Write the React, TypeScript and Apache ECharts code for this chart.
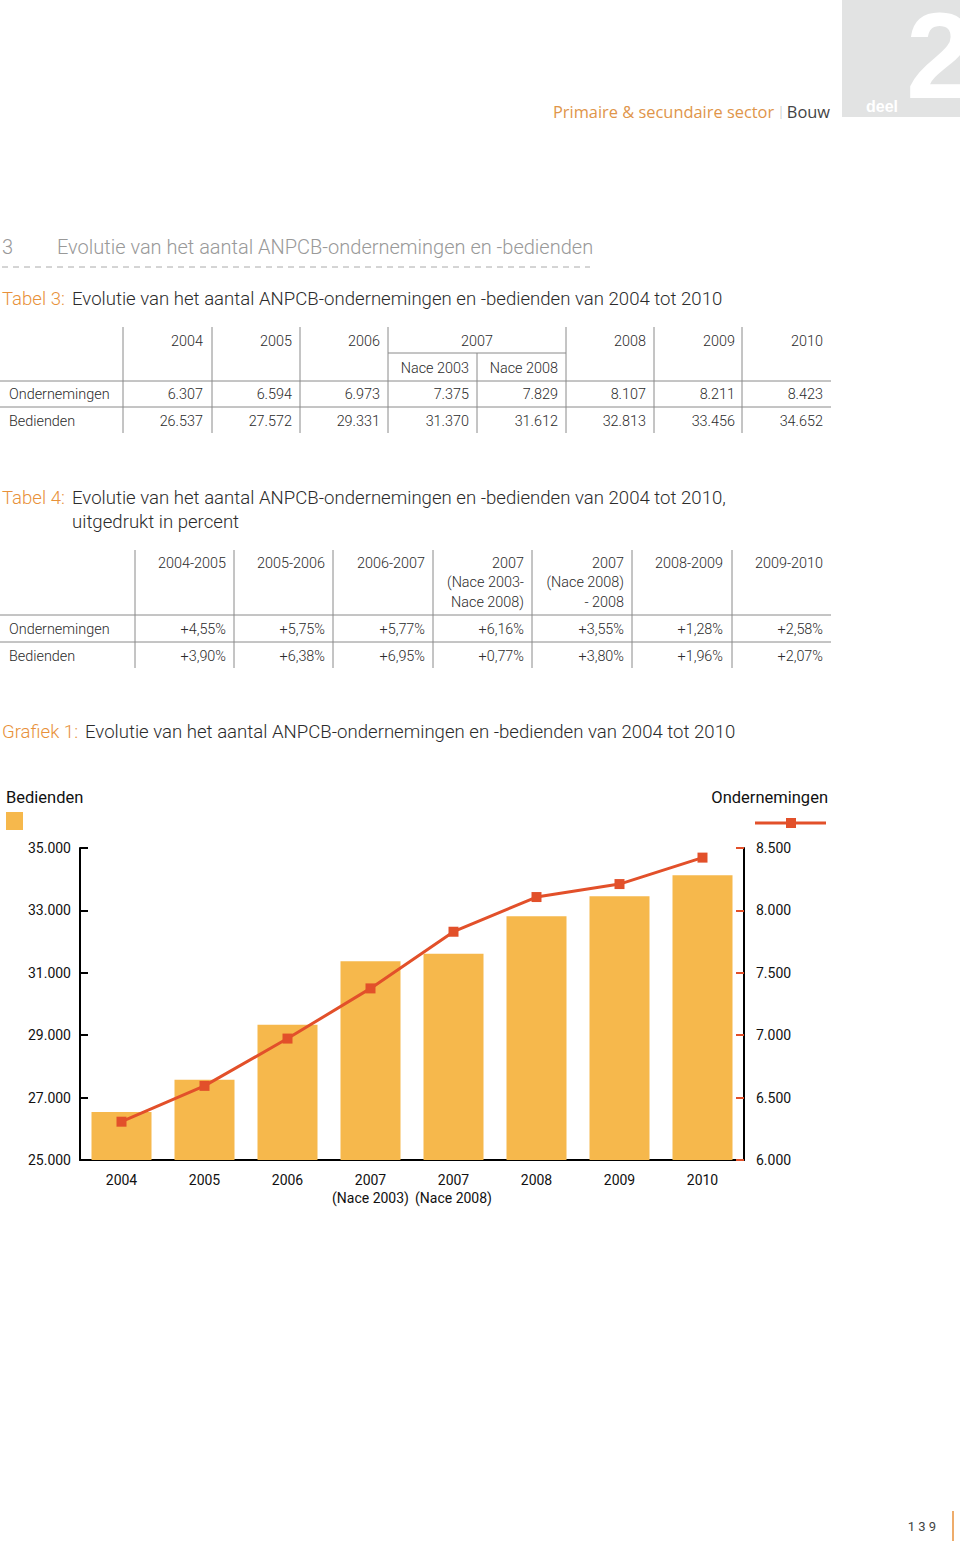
import React, { useEffect, useRef } from 'react';
import * as echarts from 'echarts';

// ---------- data ----------
const table3Years = ['2004', '2005', '2006', '2007', '2008', '2009', '2010'];
const table3Nace = ['Nace 2003', 'Nace 2008'];
const table3Ondernemingen = ['6.307', '6.594', '6.973', '7.375', '7.829', '8.107', '8.211', '8.423'];
const table3Bedienden = ['26.537', '27.572', '29.331', '31.370', '31.612', '32.813', '33.456', '34.652'];

const table4Headers = [
  ['2004-2005'],
  ['2005-2006'],
  ['2006-2007'],
  ['2007', '(Nace 2003-', 'Nace 2008)'],
  ['2007', '(Nace 2008)', '- 2008'],
  ['2008-2009'],
  ['2009-2010'],
];
const table4Ondernemingen = ['+4,55%', '+5,75%', '+5,77%', '+6,16%', '+3,55%', '+1,28%', '+2,58%'];
const table4Bedienden = ['+3,90%', '+6,38%', '+6,95%', '+0,77%', '+3,80%', '+1,96%', '+2,07%'];
const rowLabels = ['Ondernemingen', 'Bedienden'];

const chartCategories = ['2004', '2005', '2006', '2007\n(Nace 2003)', '2007\n(Nace 2008)', '2008', '2009', '2010'];
const chartBedienden = [26537, 27572, 29331, 31370, 31612, 32813, 33456, 34130];
const chartOndernemingen = [6307, 6594, 6973, 7375, 7829, 8107, 8211, 8423];

// ---------- styles ----------
const ORANGE = '#E8913A';
const BAR = '#F6B84C';
const RED = '#E2502A';
const TEXT = '#2b2b2b';
const GRID = '#8a8a8a';
const BODY_FONT = "Roboto, 'Liberation Sans', Arial, sans-serif";
const HEAD_FONT = "'Open Sans', 'Liberation Sans', Arial, sans-serif";
const COND_FONT = "Roboto, 'Liberation Sans', sans-serif";
const TITLE_SIZE = 18.6;
const TABLE_SIZE = 14.4;

type Align = 'left' | 'right' | 'center';
const txt = (text: string, x: number, y: number, size: number, fill: string, align: Align = 'left', weight: any = 300, family = BODY_FONT) => ({
  type: 'text',
  x,
  y,
  silent: true,
  style: { text, fill, fontSize: size, fontWeight: weight, fontFamily: family, textAlign: align, textVerticalAlign: 'middle' },
});
const ln = (x1: number, y1: number, x2: number, y2: number, stroke = GRID, lineWidth = 1, dash?: number[]) => ({
  type: 'line',
  silent: true,
  shape: { x1, y1, x2, y2 },
  style: { stroke, lineWidth, lineDash: dash },
});

const fmt = (v: number) => String(v).replace(/\B(?=(\d{3})+(?!\d))/g, '.');

function buildGraphics() {
  const g: any[] = [];
  // header
  g.push({ type: 'rect', shape: { x: 842, y: 0, width: 118, height: 117 }, style: { fill: '#E2E3E3' }, silent: true });
  g.push({ type: 'text', x: 906, y: 117, silent: true, style: { text: '2', fill: '#ffffff', fontSize: 122, fontWeight: 'bold', fontFamily: "'Liberation Sans', Arial, sans-serif", textAlign: 'left', textVerticalAlign: 'bottom' } });
  g.push(txt('deel', 866, 106, 16, '#ffffff', 'left', 'bold', "'Liberation Sans', Arial, sans-serif"));
  g.push(txt('Primaire & secundaire sector', 553, 111, 16.4, '#E0954A', 'left', 400, HEAD_FONT));
  g.push(txt('|', 781, 111, 12, '#aaaaaa', 'center', 300, HEAD_FONT));
  g.push(txt('Bouw', 830, 111, 16.4, '#444444', 'right', 400, HEAD_FONT));

  // section heading
  g.push(txt('3', 2, 247, 20, '#999999', 'left', 300));
  g.push(txt('Evolutie van het aantal ANPCB-ondernemingen en -bedienden', 57, 247, 20, '#999999', 'left', 300));
  g.push(ln(2, 267, 590, 267, '#aaaaaa', 1, [6, 5]));

  // Tabel 3 title
  g.push(txt('Tabel 3:', 2, 299, TITLE_SIZE, ORANGE, 'left', 300));
  g.push(txt('Evolutie van het aantal ANPCB-ondernemingen en -bedienden van 2004 tot 2010', 72, 299, TITLE_SIZE, TEXT, 'left', 300));

  // Tabel 3 grid
  const t3v = [123, 212, 300, 388, 566, 654, 742];
  t3v.forEach((x) => g.push(ln(x, 327, x, 433)));
  g.push(ln(477, 353, 477, 433));
  g.push(ln(388, 353, 566, 353));
  g.push(ln(0, 381, 831, 381));
  g.push(ln(0, 407, 831, 407));
  const t3Right = [203, 292, 380, 469, 558, 646, 735, 823];
  const headerXs = [203, 292, 380, 477, 646, 735, 823];
  table3Years.forEach((yr, i) => g.push(txt(yr, headerXs[i], 341, TABLE_SIZE, TEXT, i === 3 ? 'center' : 'right')));
  g.push(txt(table3Nace[0], 469, 368, TABLE_SIZE, TEXT, 'right'));
  g.push(txt(table3Nace[1], 558, 368, TABLE_SIZE, TEXT, 'right'));
  g.push(txt(rowLabels[0], 9, 394, TABLE_SIZE, TEXT, 'left'));
  g.push(txt(rowLabels[1], 9, 421, TABLE_SIZE, TEXT, 'left'));
  table3Ondernemingen.forEach((v, i) => g.push(txt(v, t3Right[i], 394, TABLE_SIZE, TEXT, 'right')));
  table3Bedienden.forEach((v, i) => g.push(txt(v, t3Right[i], 421, TABLE_SIZE, TEXT, 'right')));

  // Tabel 4 title
  g.push(txt('Tabel 4:', 2, 498, TITLE_SIZE, ORANGE, 'left', 300));
  g.push(txt('Evolutie van het aantal ANPCB-ondernemingen en -bedienden van 2004 tot 2010,', 72, 498, TITLE_SIZE, TEXT, 'left', 300));
  g.push(txt('uitgedrukt in percent', 72, 522, TITLE_SIZE, TEXT, 'left', 300));

  // Tabel 4 grid
  const t4v = [135, 234, 333, 433, 532, 632, 732];
  t4v.forEach((x) => g.push(ln(x, 550, x, 668)));
  g.push(ln(0, 615, 831, 615));
  g.push(ln(0, 642, 831, 642));
  const t4Right = [226, 325, 425, 524, 624, 723, 823];
  table4Headers.forEach((lines, i) => lines.forEach((l, j) => g.push(txt(l, t4Right[i], 563 + j * 19.5, TABLE_SIZE, TEXT, 'right'))));
  g.push(txt(rowLabels[0], 9, 629, TABLE_SIZE, TEXT, 'left'));
  g.push(txt(rowLabels[1], 9, 656, TABLE_SIZE, TEXT, 'left'));
  table4Ondernemingen.forEach((v, i) => g.push(txt(v, t4Right[i], 629, TABLE_SIZE, TEXT, 'right')));
  table4Bedienden.forEach((v, i) => g.push(txt(v, t4Right[i], 656, TABLE_SIZE, TEXT, 'right')));

  // Grafiek 1 title
  g.push(txt('Grafiek 1:', 2, 732, TITLE_SIZE, ORANGE, 'left', 300));
  g.push(txt('Evolutie van het aantal ANPCB-ondernemingen en -bedienden van 2004 tot 2010', 85, 732, TITLE_SIZE, TEXT, 'left', 300));

  // chart legends
  g.push(txt('Bedienden', 6, 797, 16.5, '#111111', 'left', 400, COND_FONT));
  g.push({ type: 'rect', silent: true, shape: { x: 6, y: 812, width: 17, height: 18 }, style: { fill: BAR } });
  g.push(txt('Ondernemingen', 828, 797, 16.5, '#111111', 'right', 400, COND_FONT));
  g.push(ln(755, 823, 826, 823, RED, 3));
  g.push({ type: 'rect', silent: true, shape: { x: 786, y: 818, width: 10, height: 10 }, style: { fill: RED } });

  // page number
  g.push({ type: 'text', x: 936, y: 1526, silent: true, style: { text: '1 3 9', fill: '#444444', fontSize: 13, fontFamily: BODY_FONT, fontWeight: 400, textAlign: 'right', textVerticalAlign: 'middle' } });
  g.push(ln(953, 1511, 953, 1541, ORANGE, 1.5));
  return g;
}

export default function App() {
  const ref = useRef<HTMLDivElement>(null);
  useEffect(() => {
    const chart = echarts.init(ref.current!, null, { renderer: 'svg' });
    const option: any = {
      animation: false,
      backgroundColor: '#ffffff',
      grid: { left: 80, right: 216, top: 848, bottom: 384, containLabel: false },
      xAxis: {
        type: 'category',
        data: chartCategories,
        axisLine: { lineStyle: { color: '#000', width: 2 } },
        axisTick: { inside: true, length: 7, lineStyle: { color: '#000', width: 2 } },
        axisLabel: { color: '#111', fontSize: 14, fontFamily: COND_FONT, margin: 11, lineHeight: 18, interval: 0 },
        splitLine: { show: false },
      },
      yAxis: [
        {
          type: 'value',
          min: 25000,
          max: 35000,
          interval: 2000,
          position: 'left',
          axisLine: { show: true, lineStyle: { color: '#000', width: 2 } },
          axisTick: { show: true, inside: true, length: 8, lineStyle: { color: '#000', width: 2 } },
          axisLabel: { color: '#111', fontSize: 14, fontFamily: COND_FONT, margin: 9, formatter: (v: number) => fmt(v) },
          splitLine: { show: false },
        },
        {
          type: 'value',
          min: 6000,
          max: 8500,
          interval: 500,
          position: 'right',
          axisLine: { show: true, lineStyle: { color: '#000', width: 2 } },
          axisTick: { show: true, inside: true, length: 8, lineStyle: { color: RED, width: 2 } },
          axisLabel: { color: '#111', fontSize: 14, fontFamily: COND_FONT, margin: 12, formatter: (v: number) => fmt(v) },
          splitLine: { show: false },
        },
      ],
      series: [
        {
          type: 'bar',
          name: 'Bedienden',
          yAxisIndex: 0,
          data: chartBedienden,
          barWidth: 60,
          itemStyle: { color: BAR },
          z: 1,
        },
        {
          type: 'line',
          name: 'Ondernemingen',
          yAxisIndex: 1,
          data: chartOndernemingen,
          symbol: 'rect',
          symbolSize: 10,
          lineStyle: { color: RED, width: 3 },
          itemStyle: { color: RED },
          z: 3,
        },
      ],
      graphic: buildGraphics(),
    };
    chart.setOption(option);
    return () => chart.dispose();
  }, []);
  return <div ref={ref} style={{ position: 'absolute', left: 0, top: 0, width: 960, height: 1544, background: '#fff' }} />;
}
